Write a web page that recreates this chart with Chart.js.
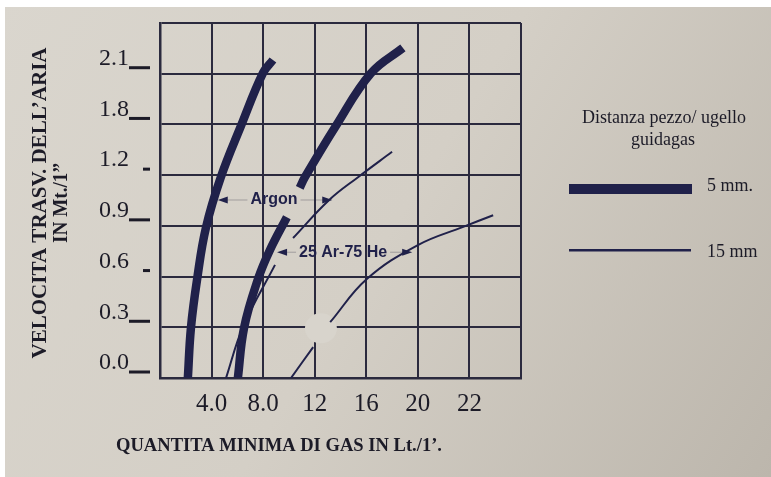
<!DOCTYPE html>
<html><head><meta charset="utf-8">
<script src="https://cdn.jsdelivr.net/npm/chart.js@4"></script>
<style>html,body{margin:0;padding:0;background:#fff;overflow:hidden}canvas{display:block}</style>
</head><body>
<canvas id="c" width="771" height="477"></canvas>
<script>
// Tick labels (the printed scale is not linear, so each grid line is one unit)
const xTickLabels = ['', '4.0', '8.0', '12', '16', '20', '22', ''];
const yTickLabels = ['0.0', '0.3', '0.6', '0.9', '1.2', '1.8', '2.1', ''];

// Curves in grid-line units (null = gap in the printed line)
const argon5X  = [0.54, 0.60, 0.72, 0.89, 1.18, 1.57, 2.00, 2.19];
const argon5Y  = [0.00, 0.99, 1.95, 2.96, 3.96, 4.97, 6.02, 6.27];

const heMix5X  = [1.51, 1.63, 1.90, 2.13, 2.46, 2.58, 2.71, 2.81, 3.41, 4.09, 4.71];
const heMix5Y  = [0.00, 0.99, 1.95, 2.52, 3.17, null, 3.75, 3.96, 4.97, 6.01, 6.51];

const argon15X = [1.28, 1.61, 2.23, 2.40, 2.58, 3.28, 3.84, 4.50];
const argon15Y = [0.00, 1.01, 2.23, null, 2.76, 3.51, 3.96, 4.46];

const heMix15X = [2.54, 2.97, 3.13, 3.30, 4.01, 5.00, 5.88, 6.46];
const heMix15Y = [0.00, 0.61, null, 1.10, 1.95, 2.62, 2.98, 3.21];

const legendTitle = ['Distanza pezzo/ ugello', 'guidagas'];
const legendLabels = ['5 mm.', '15 mm'];
const curveLabels = ['Argon', '25 Ar-75 He'];
const xTitle = 'QUANTITA MINIMA DI GAS IN Lt./1\u2019.';
const yTitle = ['VELOCITA TRASV. DELL\u2019ARIA', 'IN Mt./1\u201D'];

const INK = '#20214a';
const GRID = '#2b2a3e';
const TEXT = '#1c1b27';

function pts(xs, ys) { return xs.map((x, i) => ({ x: x, y: ys[i] })); }

function fitText(ctx, text, cx, cy, w, font, rot) {
  ctx.save();
  ctx.font = font; ctx.textAlign = 'center'; ctx.textBaseline = 'middle';
  ctx.translate(cx, cy);
  if (rot) ctx.rotate(rot);
  const m = ctx.measureText(text).width;
  ctx.scale(w / m, 1);
  ctx.fillText(text, 0, 0);
  ctx.restore();
}

function arrow(ctx, fromX, tipX, y) {
  const dir = tipX > fromX ? 1 : -1;
  ctx.save();
  ctx.strokeStyle = 'rgba(40,40,60,0.3)'; ctx.lineWidth = 1;
  ctx.beginPath(); ctx.moveTo(fromX, y); ctx.lineTo(tipX - dir * 8, y); ctx.stroke();
  ctx.fillStyle = INK;
  ctx.beginPath();
  ctx.moveTo(tipX, y);
  ctx.lineTo(tipX - dir * 10, y - 3.5);
  ctx.lineTo(tipX - dir * 10, y + 3.5);
  ctx.closePath(); ctx.fill();
  ctx.restore();
}

const bgPlugin = {
  id: 'bg',
  beforeDraw(chart) {
    const ctx = chart.ctx, W = chart.width, H = chart.height;
    ctx.save();
    ctx.fillStyle = '#ffffff'; ctx.fillRect(0, 0, W, H);
    const g = ctx.createLinearGradient(0, 0, W, H);
    g.addColorStop(0, '#dad6ce');
    g.addColorStop(0.5, '#d4cfc6');
    g.addColorStop(1, '#bcb6ac');
    ctx.fillStyle = g; ctx.fillRect(5, 7, W - 5, H - 7);
    ctx.restore();
  },
  beforeDatasetsDraw(chart) {
    // erased spot on the grid where the thin mixed-gas curve is broken
    const ctx = chart.ctx, xs = chart.scales.x, ys = chart.scales.y;
    const cx = xs.getPixelForValue(3.12), cy = ys.getPixelForValue(0.98);
    ctx.save();
    ctx.fillStyle = '#d8d4cc';
    ctx.beginPath(); ctx.ellipse(cx, cy, 16, 15, 0, 0, Math.PI * 2); ctx.fill();
    ctx.restore();
  }
};

const decoPlugin = {
  id: 'deco',
  afterDraw(chart) {
    const ctx = chart.ctx, xs = chart.scales.x, ys = chart.scales.y;
    const L = chart.chartArea.left;
    ctx.save();
    // dashes beside the y tick labels
    ctx.fillStyle = TEXT;
    yTickLabels.forEach((lab, i) => {
      if (!lab) return;
      const y = ys.getPixelForValue(i) - 6;
      const short = (lab === '1.2' || lab === '0.6');
      const x0 = short ? L - 17 : L - 31;
      ctx.fillRect(x0, y - 1.5, L - 10 - x0, 3);
    });

    // curve labels with arrows
    ctx.fillStyle = INK;
    ctx.font = 'bold 16px "Liberation Sans", Arial, sans-serif';
    ctx.textAlign = 'center'; ctx.textBaseline = 'middle';
    let cx = xs.getPixelForValue(2.21), cy = ys.getPixelForValue(3.51);
    let tw = ctx.measureText(curveLabels[0]).width;
    ctx.fillText(curveLabels[0], cx, cy);
    arrow(ctx, cx - tw / 2 - 3, xs.getPixelForValue(1.12), cy);
    arrow(ctx, cx + tw / 2 + 3, xs.getPixelForValue(3.34), cy);
    cx = xs.getPixelForValue(3.55); cy = ys.getPixelForValue(2.48);
    tw = ctx.measureText(curveLabels[1]).width;
    ctx.fillStyle = INK;
    ctx.fillText(curveLabels[1], cx, cy);
    arrow(ctx, cx - tw / 2 - 3, xs.getPixelForValue(2.27), cy);
    arrow(ctx, cx + tw / 2 + 3, xs.getPixelForValue(4.89), cy);

    // axis titles
    ctx.fillStyle = TEXT;
    fitText(ctx, xTitle, 279, 446, 326, 'bold 18px "Liberation Serif", "Times New Roman", serif', 0);
    fitText(ctx, yTitle[0], 41, 203, 311, 'bold 21px "Liberation Serif", "Times New Roman", serif', -Math.PI / 2);
    fitText(ctx, yTitle[1], 62, 203, 80, 'bold 21px "Liberation Serif", "Times New Roman", serif', -Math.PI / 2);

    // legend
    ctx.font = '18px "Liberation Serif", "Times New Roman", serif';
    ctx.textAlign = 'center';
    ctx.fillText(legendTitle[0], 664, 118);
    ctx.fillText(legendTitle[1], 663, 140);
    ctx.fillStyle = INK;
    ctx.fillRect(569, 184, 123, 10);
    ctx.fillRect(569, 249, 122, 2.5);
    ctx.fillStyle = TEXT;
    ctx.textAlign = 'left';
    ctx.fillText(legendLabels[0], 707, 186);
    ctx.fillText(legendLabels[1], 707, 252);
    ctx.restore();
  }
};

const thick = { borderColor: INK, borderWidth: 8.5, borderCapStyle: 'butt' };
const thin  = { borderColor: INK, borderWidth: 2, borderCapStyle: 'butt' };

new Chart(document.getElementById('c'), {
  type: 'line',
  data: {
    datasets: [
      Object.assign({ label: 'Argon 5 mm', data: pts(argon5X, argon5Y) }, thick),
      Object.assign({ label: '25 Ar-75 He 5 mm', data: pts(heMix5X, heMix5Y) }, thick),
      Object.assign({ label: 'Argon 15 mm', data: pts(argon15X, argon15Y) }, thin),
      Object.assign({ label: '25 Ar-75 He 15 mm', data: pts(heMix15X, heMix15Y) }, thin)
    ]
  },
  options: {
    responsive: false,
    animation: false,
    devicePixelRatio: 1,
    layout: { padding: { top: 23, right: 250, left: 0, bottom: 0 } },
    elements: { point: { radius: 0, hoverRadius: 0 }, line: { tension: 0.4, fill: false } },
    spanGaps: false,
    plugins: { legend: { display: false }, tooltip: { enabled: false }, title: { display: false } },
    scales: {
      x: {
        type: 'linear', min: 0, max: 7,
        afterFit(s) { s.height = 99; s.paddingLeft = 0; s.paddingRight = 0; },
        grid: { color: GRID, lineWidth: 2, drawTicks: false },
        border: { color: GRID, width: 2.5 },
        ticks: {
          stepSize: 1, autoSkip: false, maxRotation: 0, padding: 11, color: TEXT,
          font: { family: '"Liberation Serif", "Times New Roman", serif', size: 25 },
          callback: (v) => xTickLabels[v] !== undefined ? xTickLabels[v] : ''
        }
      },
      y: {
        type: 'linear', min: 0, max: 7,
        afterFit(s) { s.width = 160; s.paddingTop = 0; s.paddingBottom = 0; },
        grid: { color: GRID, lineWidth: 2, drawTicks: false },
        border: { color: GRID, width: 2.5 },
        ticks: {
          stepSize: 1, autoSkip: false, padding: 31, labelOffset: -15, color: TEXT,
          font: { family: '"Liberation Serif", "Times New Roman", serif', size: 24 },
          callback: (v) => yTickLabels[v] !== undefined ? yTickLabels[v] : ''
        }
      }
    }
  },
  plugins: [bgPlugin, decoPlugin]
});
</script>
</body></html>
